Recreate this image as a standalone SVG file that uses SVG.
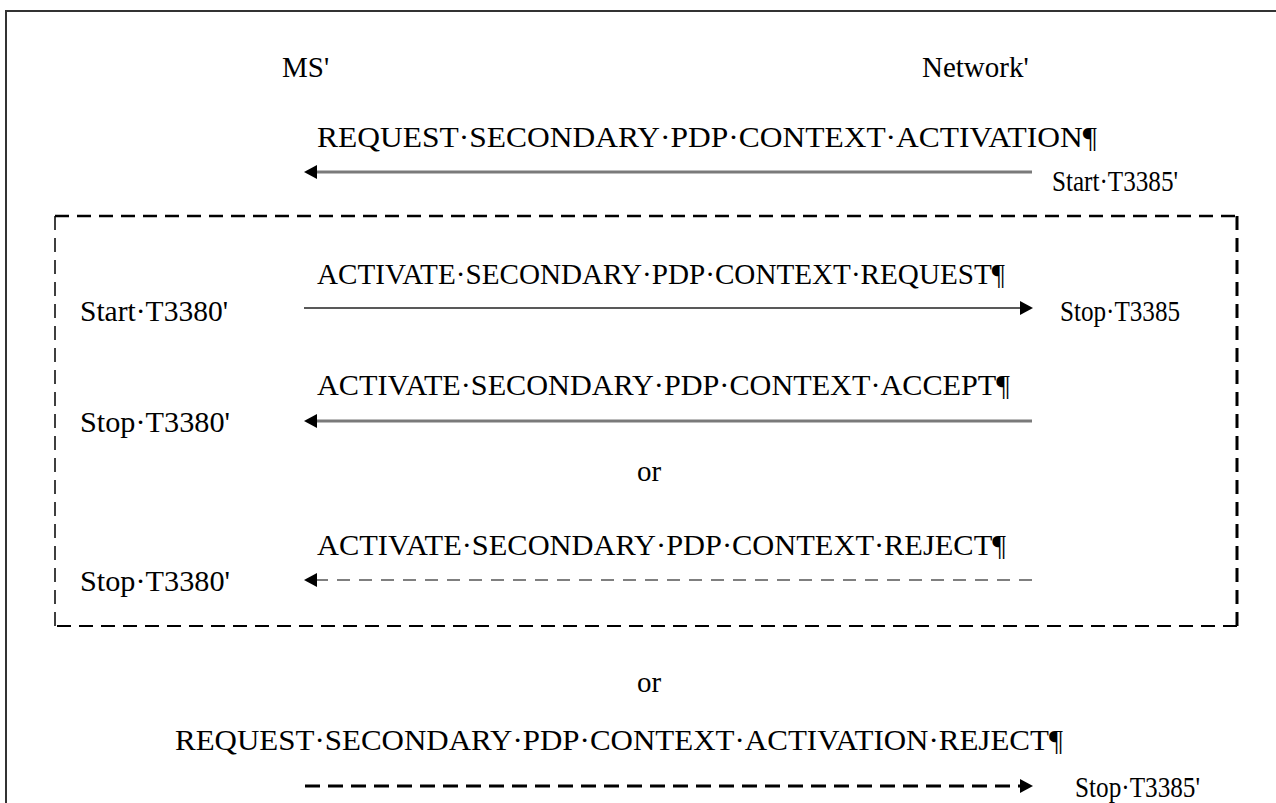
<svg xmlns="http://www.w3.org/2000/svg" width="1276" height="803" viewBox="0 0 1276 803">
<style>
text{font-family:"Liberation Serif","Times New Roman",serif;font-size:29px;fill:#000}
.sl{stroke:#7a7a7a;stroke-width:3;fill:none}
.sd{stroke:#222;stroke-width:1.5;fill:none}
.dl{stroke:#555;stroke-width:1.5;stroke-dasharray:13 9;fill:none}
.db{stroke:#000;stroke-width:3;stroke-dasharray:15 8;fill:none}
.box{stroke:#000;fill:none;stroke-dasharray:14 8}
.ah{fill:#000}
</style>
<rect x="0" y="0" width="1276" height="803" fill="#fff"/>
<path d="M6,803 V11 H1276" fill="none" stroke="#333" stroke-width="2"/>
<g id="box">
<line class="box" x1="55" y1="216" x2="1237" y2="216" stroke-width="2.5"/>
<line class="box" x1="1237" y1="216" x2="1237" y2="626" stroke-width="3"/>
<line class="box" x1="1237" y1="626" x2="55" y2="626" stroke-width="2"/>
<line class="box" x1="55" y1="626" x2="55" y2="216" stroke-width="1.5"/>
</g>
<g id="ms"><text x="282" y="77">MS'</text></g>
<g id="network"><text x="922" y="77">Network'</text></g>
<g id="labels">
<text x="317" y="147" textLength="780" lengthAdjust="spacingAndGlyphs">REQUEST·SECONDARY·PDP·CONTEXT·ACTIVATION¶</text>
<text x="1052" y="191" textLength="126" lengthAdjust="spacingAndGlyphs">Start·T3385'</text>
<text x="317" y="284" textLength="688" lengthAdjust="spacingAndGlyphs">ACTIVATE·SECONDARY·PDP·CONTEXT·REQUEST¶</text>
<text x="80" y="321" textLength="148" lengthAdjust="spacingAndGlyphs">Start·T3380'</text>
<text x="1060" y="321" textLength="120" lengthAdjust="spacingAndGlyphs">Stop·T3385</text>
<text x="317" y="395" textLength="693" lengthAdjust="spacingAndGlyphs">ACTIVATE·SECONDARY·PDP·CONTEXT·ACCEPT¶</text>
<text x="80" y="432" textLength="150" lengthAdjust="spacingAndGlyphs">Stop·T3380'</text>
<text x="637" y="481">or</text>
<text x="317" y="555" textLength="689" lengthAdjust="spacingAndGlyphs">ACTIVATE·SECONDARY·PDP·CONTEXT·REJECT¶</text>
<text x="80" y="591" textLength="150" lengthAdjust="spacingAndGlyphs">Stop·T3380'</text>
<text x="637" y="692">or</text>
<text x="175" y="750" textLength="888" lengthAdjust="spacingAndGlyphs">REQUEST·SECONDARY·PDP·CONTEXT·ACTIVATION·REJECT¶</text>
<text x="1075" y="797" textLength="125" lengthAdjust="spacingAndGlyphs">Stop·T3385'</text>
</g>
<g id="connectors">
<line class="sl" x1="1032" y1="172" x2="314" y2="172"/>
<polygon class="ah" points="304,172 317,165 317,179"/>
<line class="sd" x1="304" y1="308" x2="1022" y2="308"/>
<polygon class="ah" points="1033,308 1020,301 1020,315"/>
<line class="sl" x1="1032" y1="421" x2="314" y2="421"/>
<polygon class="ah" points="304,421 317,414 317,428"/>
<line class="dl" x1="1032" y1="580" x2="314" y2="580"/>
<polygon class="ah" points="304,580 317,573 317,587"/>
<line class="db" x1="305" y1="786" x2="1022" y2="786"/>
<polygon class="ah" points="1033,786 1020,779 1020,793"/>
</g>
</svg>
